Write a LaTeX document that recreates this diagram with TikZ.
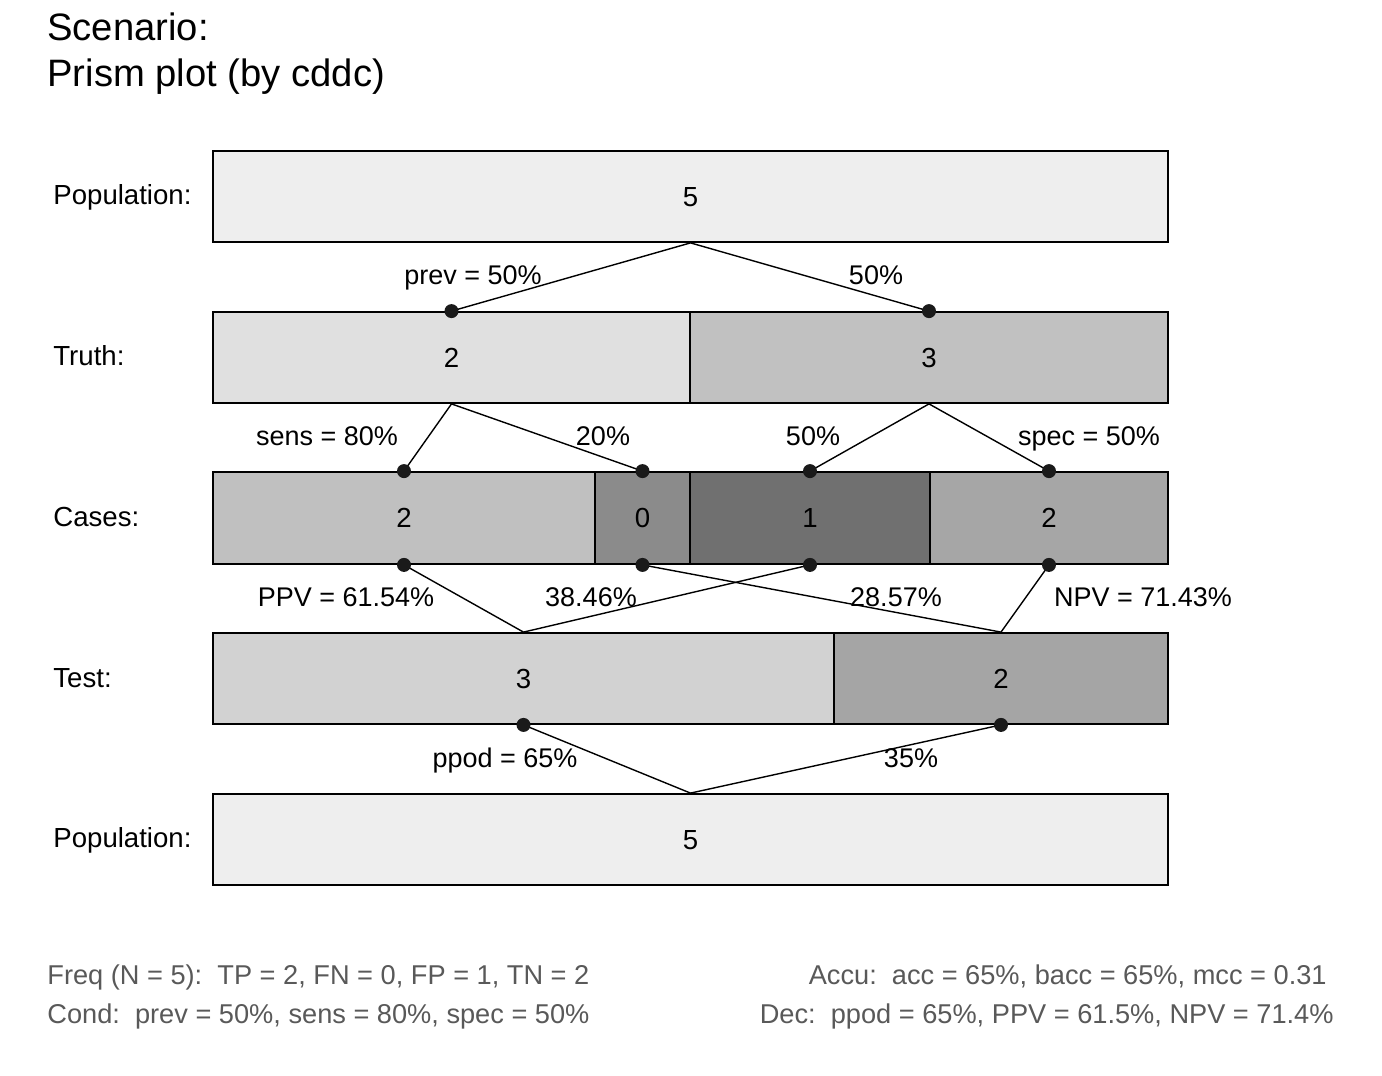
\documentclass[tikz,border=0pt]{standalone}
\usepackage{fontspec}
\setmainfont{Liberation Sans}
\definecolor{cPop}{HTML}{EEEEEE}
\definecolor{cCondT}{HTML}{E0E0E0}
\definecolor{cCondF}{HTML}{C1C1C1}
\definecolor{cTP}{HTML}{C0C0C0}
\definecolor{cFN}{HTML}{8B8B8B}
\definecolor{cFP}{HTML}{707070}
\definecolor{cTN}{HTML}{A6A6A6}
\definecolor{cDecP}{HTML}{D2D2D2}
\definecolor{cDecN}{HTML}{A5A5A5}
\definecolor{cFoot}{HTML}{595959}
\definecolor{cDot}{HTML}{1A1A1A}
\tikzset{
  segbox/.style={draw=black, line width=0.9pt, rectangle, inner sep=0pt, text height=9.8pt, text depth=0pt, font=\fontsize{13.8}{16}\selectfont},
  dotnode/.style={circle, fill=cDot, draw=none, inner sep=0pt, minimum size=7pt},
  conn/.style={line width=0.7pt, draw=black},
  rowlabel/.style={anchor=west, inner sep=0pt, text height=9.8pt, text depth=0pt, font=\fontsize{13.8}{16}\selectfont},
  edgelabel/.style={inner sep=0pt, text height=9.7pt, text depth=0pt, font=\fontsize{13.5}{16}\selectfont},
  foot/.style={inner sep=0pt, text height=9.7pt, text depth=0pt, text=cFoot, font=\fontsize{13.6}{16}\selectfont},
  titletext/.style={anchor=north west, inner sep=0pt, align=left, font=\fontsize{19.1}{23}\selectfont},
}
\newcommand\segnode[7]{%
  \node[segbox, fill=#6, minimum width={(#3-#2)*0.5pt}, minimum height={(#5-#4)*0.5pt}] (#1) at ({(#2+#3)/2},{(#4+#5)/2}) {#7};}
\begin{document}
\begin{tikzpicture}[x=0.5pt,y=-0.5pt]
\useasboundingbox[fill=white] (0,0) rectangle (1382,1076);

% title
\node[titletext] (title) at (47,12) {Scenario:\\Prism plot (by cddc)};

% row labels
\node[rowlabel] (lPop1) at (53,194.5) {Population:};
\node[rowlabel] (lTruth) at (53,356) {Truth:};
\node[rowlabel] (lCases) at (53,517) {Cases:};
\node[rowlabel] (lTest) at (53,678) {Test:};
\node[rowlabel] (lPop2) at (53,838) {Population:};

% boxes
\segnode{popA}{213}{1168}{151}{242}{cPop}{5}
\segnode{condT}{213}{690}{312}{403}{cCondT}{2}
\segnode{condF}{690}{1168}{312}{403}{cCondF}{3}
\segnode{tp}{213}{595}{472}{564}{cTP}{2}
\segnode{fn}{595}{690}{472}{564}{cFN}{0}
\segnode{fp}{690}{930}{472}{564}{cFP}{1}
\segnode{tn}{930}{1168}{472}{564}{cTN}{2}
\segnode{decP}{213}{834}{633}{724}{cDecP}{3}
\segnode{decN}{834}{1168}{633}{724}{cDecN}{2}
\segnode{popB}{213}{1168}{794}{885}{cPop}{5}

% connectors
\draw[conn] (popA.south) -- (condT.north);
\draw[conn] (popA.south) -- (condF.north);
\draw[conn] (condT.south) -- (tp.north);
\draw[conn] (condT.south) -- (fn.north);
\draw[conn] (condF.south) -- (fp.north);
\draw[conn] (condF.south) -- (tn.north);
\draw[conn] (tp.south) -- (decP.north);
\draw[conn] (fp.south) -- (decP.north);
\draw[conn] (fn.south) -- (decN.north);
\draw[conn] (tn.south) -- (decN.north);
\draw[conn] (decP.south) -- (popB.north);
\draw[conn] (decN.south) -- (popB.north);

% dots
\node[dotnode] (dCT) at (condT.north) {};
\node[dotnode] (dCF) at (condF.north) {};
\node[dotnode] (dTPn) at (tp.north) {};
\node[dotnode] (dFNn) at (fn.north) {};
\node[dotnode] (dFPn) at (fp.north) {};
\node[dotnode] (dTNn) at (tn.north) {};
\node[dotnode] (dTPs) at (tp.south) {};
\node[dotnode] (dFNs) at (fn.south) {};
\node[dotnode] (dFPs) at (fp.south) {};
\node[dotnode] (dTNs) at (tn.south) {};
\node[dotnode] (dDP) at (decP.south) {};
\node[dotnode] (dDN) at (decN.south) {};

% edge labels
\node[edgelabel] (eprev) at (473,275) {prev = 50\%};
\node[edgelabel] (eprevc) at (876,275) {50\%};
\node[edgelabel] (esens) at (327,436) {sens = 80\%};
\node[edgelabel] (esensc) at (603,436) {20\%};
\node[edgelabel] (especc) at (813,436) {50\%};
\node[edgelabel] (espec) at (1089,436) {spec = 50\%};
\node[edgelabel] (eppv) at (346,597) {PPV = 61.54\%};
\node[edgelabel] (eppvc) at (591,597) {38.46\%};
\node[edgelabel] (enpvc) at (896,597) {28.57\%};
\node[edgelabel] (enpv) at (1143,597) {NPV = 71.43\%};
\node[edgelabel] (eppod) at (505,758) {ppod = 65\%};
\node[edgelabel] (eppodc) at (911,758) {35\%};

% footer
\node[foot, anchor=west] (f1) at (47,975) {Freq (N = 5):\ \ TP = 2, FN = 0, FP = 1, TN = 2};
\node[foot, anchor=west] (f2) at (47,1014) {Cond:\ \ prev = 50\%, sens = 80\%, spec = 50\%};
\node[foot, anchor=east] (f3) at (1327,975) {Accu:\ \ acc = 65\%, bacc = 65\%, mcc = 0.31};
\node[foot, anchor=east] (f4) at (1334,1014) {Dec:\ \ ppod = 65\%, PPV = 61.5\%, NPV = 71.4\%};
\end{tikzpicture}
\end{document}
